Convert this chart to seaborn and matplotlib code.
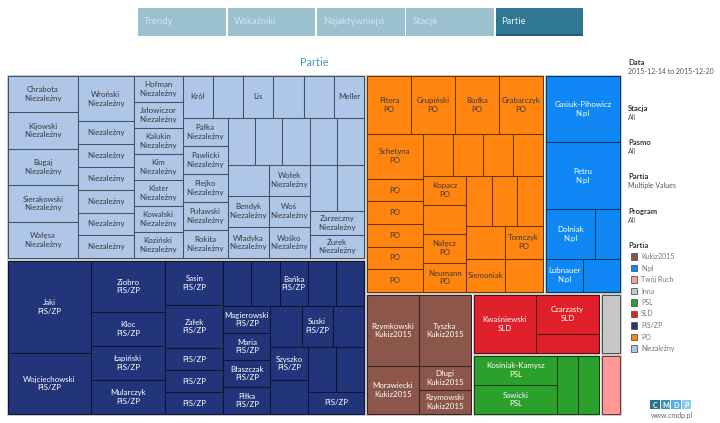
import matplotlib
matplotlib.use("Agg")
import matplotlib.pyplot as plt
import matplotlib.colors as mcolors
from matplotlib.patches import Rectangle
import seaborn as sns

# ---------------- data ----------------
parties = ["Niezależny", "PiS/ZP", "PO", "N.pl", "Kukiz2015", "SLD", "PSL", "Inna", "Twój Ruch"]
party_colors = ["#aec7e8", "#23357a", "#ff850f", "#0f88f5", "#8c564b", "#e0202a", "#2ca02c", "#c7c7c7", "#ff9896"]
party_text = ["#3a3a3a", "#ffffff", "#3a3a3a", "#ffffff", "#ffffff", "#ffffff", "#ffffff", "#3a3a3a", "#3a3a3a"]

# None = no label, "" = party name only
niez_names = ["Chrabota", "Kijowski", "Bugaj", "Sierakowski", "Wałęsa",
              "Wroński", "", "", "", "", "", "",
              "Hofman", "Jałowiczor", "Kalukin", "Kim", "Kister", "Kowalski", "Koziński",
              "Król", None, "Lis", None, None, "Meller",
              "Pałka", "Pawlicki", "Piejko", "Puławski", "Rokita",
              None, None, None, None, None,
              None, "Bendyk", "Władyka",
              "Wołek", "Woś", "Wośko",
              None, None,
              "Zarzeczny", "Żurek"]
niez_values = [2, 2, 2, 2, 2,
               2, 1, 1, 1, 1, 1, 1,
               1, 1, 1, 1, 1, 1, 1,
               1, 1, 1, 1, 1, 1,
               1, 1, 1, 1, 1,
               1, 1, 1, 1, 1,
               1, 1, 1,
               1, 1, 1,
               1, 1,
               1, 1]

pis_names = ["Jaki", "Wojciechowski",
             "Ziobro", "Kloc", "Łapiński", "Mularczyk",
             "Sasin", "Załek", "", "", "",
             None, None, "Bańka", None, None,
             "Magierowski", "Maria", "Błaszczak", "Piłka",
             None, "Suski", None,
             "Szyszko", None,
             None, None,
             ""]
pis_values = [6, 4,
              3, 2, 2, 2,
              2, 2, 1, 1, 1,
              1, 1, 1, 1, 1,
              1, 1, 1, 1,
              1, 1, 1,
              1, 1,
              1, 1,
              1]

po_names = ["Pitera", "Grupiński", "Budka", "Grabarczyk",
            "Schetyna", "", "", "", "", "",
            None, None, None, None,
            "Kopacz", None, "Nałęcz", "Neumann",
            None, None, None,
            None, "Siemoniak",
            "Tomczyk", None]
po_values = [2, 2, 2, 2,
             2, 1, 1, 1, 1, 1,
             1, 1, 1, 1,
             1, 1, 1, 1,
             1, 1, 1,
             1, 1,
             1, 1]

npl_names = ["Gasiuk-Pihowicz", "Petru", "Dolniak", None, "Lubnauer", None]
npl_values = [4, 4, 2, 1, 1, 1]

kukiz_names = ["Rzymkowski", "Tyszka", "Morawiecki", "Długi", "Rzymowski"]
kukiz_values = [3, 3, 2, 1, 1]

sld_names = ["Kwaśniewski", "Czarzasty", None]
sld_values = [3, 2, 1]

psl_names = ["Kosiniak-Kamysz", "Sawicki", None, None]
psl_values = [2, 2, 1, 1]

inna_names = [None]
inna_values = [1]
tr_names = [None]
tr_values = [1]

name_only = {"Król", "Lis", "Meller", "Siemoniak"}

party_items = [(niez_names, niez_values), (pis_names, pis_values), (po_names, po_values),
               (npl_names, npl_values), (kukiz_names, kukiz_values), (sld_names, sld_values),
               (psl_names, psl_values), (inna_names, inna_values), (tr_names, tr_values)]

# strip structure of the squarified layout (orientation + item count)
party_strips = "v2 h2 v1 v2 h1 h1"
item_strips = ["v5 v7 v7 h6 v5 h5 v3 v3 h2 v2",
               "v2 v4 v5 h5 v4 h3 v2 h2 h1",
               "h4 v6 h4 v4 h3 v2 h1 h1",
               "h1 h1 h2 v1 v1",
               "h2 v1 v2",
               "v1 v2",
               "v2 h2",
               "h1",
               "h1"]

nav_labels = ["Trendy", "Wskaźniki", "Najaktywniejsi", "Stacje", "Partie"]
legend_order = ["Kukiz2015", "N.pl", "Twój Ruch", "Inna", "PSL", "SLD", "PiS/ZP", "PO", "Niezależny"]
filters = [("Data", "2015-12-14 to 2015-12-20"), ("Stacja", "All"), ("Pasmo", "All"),
           ("Partia", "Multiple Values"), ("Program", "All")]


def layout(values, strips, x, y, w, h):
    total = float(sum(values))
    scale = w * h / total
    rects = []
    i = 0
    for spec in strips.split():
        o, n = spec[0], int(spec[1:])
        vals = values[i:i + n]
        s = float(sum(vals))
        area = s * scale
        if o == "v":
            t = area / h
            yy = y
            for v in vals:
                hh = h * v / s
                rects.append((x, yy, t, hh))
                yy += hh
            x += t
            w -= t
        else:
            t = area / w
            xx = x
            for v in vals:
                ww = w * v / s
                rects.append((xx, y, ww, t))
                xx += ww
            y += t
            h -= t
        i += n
    return rects


def darker(c, f=0.45):
    r, g, b = mcolors.to_rgb(c)
    return (r * f, g * f, b * f)


sns.set_theme(style="white")
plt.rcParams["font.family"] = ["Lato", "DejaVu Sans"]
pal = sns.color_palette(party_colors)

fig = plt.figure(figsize=(7.2, 4.23), dpi=100)
ax = fig.add_axes([0, 0, 1, 1])
ax.set_xlim(0, 720)
ax.set_ylim(423, 0)
ax.axis("off")

# ---------------- nav bar ----------------
for k, lab in enumerate(nav_labels):
    bx = 138.3 + k * 89.3
    active = lab == "Partie"
    ax.add_patch(Rectangle((bx, 8.3), 87.7, 27.7, facecolor="#2e7891" if active else "#9bc0ce",
                           edgecolor="none"))
    if active:
        ax.add_patch(Rectangle((bx, 34.5), 87.7, 1.6, facecolor="#1f5e74", edgecolor="none"))
    ax.text(bx + 6, 21.5, lab, fontsize=6.8, color="#e6f0f3" if active else "#d3e5ec",
            va="center", ha="left")

ax.text(314, 63, "Partie", fontsize=7.8, color="#4b97b6", ha="center", va="center")

# ---------------- treemap ----------------
TX, TY, TW, TH = 6.5, 74.5, 615.0, 341.0
party_tot = [sum(v) for _, v in party_items]
prects = layout(party_tot, party_strips, TX, TY, TW, TH)
g = 1.4
for pi, (px, py, pw, ph) in enumerate(prects):
    px, py, pw, ph = px + g, py + g, pw - 2 * g, ph - 2 * g
    col = pal[pi]
    ax.add_patch(Rectangle((px - 0.6, py - 0.6), pw + 1.2, ph + 1.2, facecolor="none",
                           edgecolor="#c4c4c4", linewidth=0.6))
    names, vals = party_items[pi]
    rects = layout(vals, item_strips[pi], px, py, pw, ph)
    for (x, y, w, h), nm in zip(rects, names):
        ax.add_patch(Rectangle((x, y), w, h, facecolor=col, edgecolor=darker(col, 0.4),
                               linewidth=0.75))
        if nm is None:
            continue
        if nm == "":
            txt = parties[pi]
        elif nm in name_only:
            txt = nm
        else:
            txt = nm + "\n" + parties[pi]
        ax.text(x + w / 2, y + h / 2, txt, fontsize=5.7, color=party_text[pi],
                ha="center", va="center", linespacing=1.3)

# ---------------- right panel ----------------
fy = [62.3, 108.3, 142.3, 176.7, 211.7]
for (hd, val), yy in zip(filters, fy):
    ax.text(628.3, yy, hd, fontsize=5.5, fontweight="bold", color="#333333", va="center")
    ax.text(628.3, yy + 8.8, val, fontsize=5.0, color="#555555", va="center")

ax.text(628.3, 246, "Partia", fontsize=5.5, fontweight="bold", color="#333333", va="center")
for k, p in enumerate(legend_order):
    yy = 256.5 + k * 11.5
    c = pal[parties.index(p)]
    ax.add_patch(Rectangle((630.7, yy - 3.3), 6.6, 6.6, facecolor=c, edgecolor="#555555",
                           linewidth=0.6))
    ax.text(641, yy, p, fontsize=5.0, color="#777777", va="center")

logo_cols = ["#2a7390", "#3b8fbb", "#55afdd", "#8ccceb"]
for k, ch in enumerate("CMDP"):
    lx = 650 + k * 10.6
    ax.add_patch(Rectangle((lx, 400.5), 9.6, 9.0, facecolor=logo_cols[k], edgecolor="none"))
    ax.text(lx + 4.8, 405.0, ch, fontsize=5.2, color="white", ha="center", va="center",
            fontweight="bold")
ax.text(671.5, 415.5, "www.cmdp.pl", fontsize=5.0, color="#666666", ha="center", va="center")

fig.savefig("out.png", dpi=100)
